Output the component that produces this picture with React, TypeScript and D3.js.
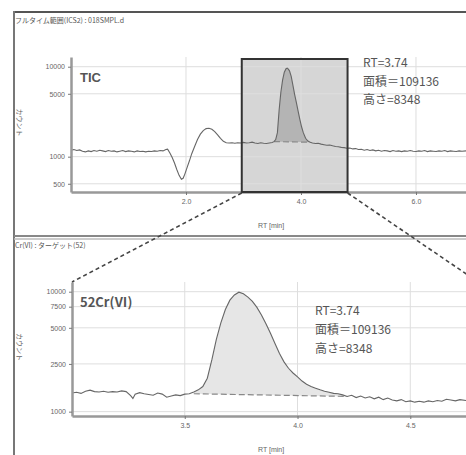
import * as d3 from "d3";
import { useEffect, useRef } from "react";

// ---- TIC (上段) ----
const ticTimes = [
  0.0, 0.05, 0.1, 0.15, 0.2, 0.25, 0.3, 0.35, 0.4, 0.45, 0.5, 0.55, 0.6, 0.65, 0.7, 0.75, 0.8, 0.85, 0.9, 0.95,
  1.0, 1.05, 1.1, 1.15, 1.2, 1.25, 1.3, 1.35, 1.4, 1.45, 1.5, 1.55, 1.6, 1.65, 1.68, 1.72, 1.76, 1.8, 1.84, 1.88,
  1.92, 1.95, 1.98, 2.02, 2.06, 2.1, 2.15, 2.2, 2.25, 2.3, 2.35, 2.4, 2.45, 2.5, 2.55, 2.6, 2.65, 2.7, 2.75, 2.8,
  2.85, 2.9, 2.95, 3.0, 3.05, 3.1, 3.15, 3.2, 3.25, 3.3, 3.35, 3.4, 3.45, 3.5, 3.53, 3.56, 3.59, 3.62, 3.65, 3.68,
  3.71, 3.74, 3.76, 3.78, 3.8, 3.83, 3.86, 3.89, 3.92, 3.95, 3.98, 4.01, 4.04, 4.08, 4.12, 4.16, 4.2, 4.25, 4.3, 4.35,
  4.4, 4.45, 4.5, 4.55, 4.6, 4.65, 4.7, 4.75, 4.8, 4.85, 4.9, 4.95, 5.0, 5.05, 5.1, 5.15, 5.2, 5.25, 5.3, 5.35,
  5.4, 5.45, 5.5, 5.55, 5.6, 5.65, 5.7, 5.75, 5.8, 5.85, 5.9, 5.95, 6.0, 6.05, 6.1, 6.15, 6.2, 6.25, 6.3, 6.35,
  6.4, 6.45, 6.5, 6.55, 6.6, 6.65, 6.7, 6.75, 6.8, 6.87,
];
const ticCounts = [
  1180, 1200, 1170, 1190, 1150, 1130, 1160, 1140, 1170, 1150, 1180, 1160, 1140, 1170, 1150, 1160, 1130, 1150, 1170, 1140,
  1160, 1150, 1130, 1160, 1140, 1150, 1130, 1150, 1140, 1160, 1150, 1170, 1160, 1200, 1210, 1100, 980, 850, 720, 620,
  560, 575, 640, 760, 900, 1080, 1300, 1550, 1780, 1950, 2050, 2070, 2020, 1900, 1750, 1600, 1480, 1430, 1420, 1430,
  1410, 1430, 1420, 1440, 1420, 1430, 1450, 1420, 1400, 1430, 1410, 1400, 1420, 1440, 1470, 1550, 1850, 3300, 5200, 7100,
  8700, 9500, 9660, 9400, 9000, 7800, 6200, 4900, 4000, 3200, 2600, 2150, 1850, 1600, 1490, 1450, 1420, 1400, 1410, 1380,
  1360, 1340, 1350, 1320, 1300, 1290, 1270, 1260, 1240, 1250, 1220, 1230, 1200, 1210, 1180, 1200, 1170, 1190, 1160, 1180,
  1150, 1170, 1160, 1140, 1170, 1150, 1160, 1140, 1160, 1150, 1170, 1150, 1140, 1160, 1150, 1170, 1140, 1160, 1150, 1140,
  1160, 1150, 1170, 1140, 1160, 1150, 1140, 1160, 1150, 1160,
];
const ticXTicks = [2.0, 4.0, 6.0];
const ticYTicks = [10000, 5000, 1000, 500];
const ticPeakRange = [3.53, 4.16]; // 積分範囲
const ticBaseCounts = [1470, 1450];

// ---- 52Cr(VI) (下段) ----
const crTimes = [
  3.0, 3.02, 3.04, 3.06, 3.08, 3.1, 3.12, 3.14, 3.16, 3.18, 3.2, 3.22, 3.24, 3.26, 3.27, 3.28, 3.3, 3.32, 3.34, 3.36,
  3.38, 3.4, 3.42, 3.44, 3.46, 3.48, 3.5, 3.52, 3.54, 3.56, 3.58, 3.6, 3.62, 3.64, 3.66, 3.68, 3.7, 3.72, 3.74, 3.76,
  3.78, 3.8, 3.82, 3.84, 3.86, 3.88, 3.9, 3.92, 3.94, 3.96, 3.98, 4.0, 4.02, 4.04, 4.06, 4.08, 4.1, 4.12, 4.14, 4.16,
  4.18, 4.2, 4.22, 4.24, 4.26, 4.28, 4.3, 4.32, 4.34, 4.36, 4.38, 4.4, 4.42, 4.44, 4.46, 4.48, 4.5, 4.52, 4.54, 4.56,
  4.58, 4.6, 4.62, 4.64, 4.66, 4.68, 4.7, 4.72, 4.747,
];
const crCounts = [
  1430, 1450, 1420, 1480, 1510, 1470, 1460, 1480, 1450, 1470, 1460, 1490, 1470, 1360, 1290, 1400, 1440, 1410, 1390, 1370,
  1430, 1400, 1320, 1350, 1380, 1360, 1400, 1410, 1460, 1520, 1620, 1900, 2700, 4000, 5500, 7100, 8500, 9400, 9900, 9600,
  9000, 8300, 7400, 6400, 5400, 4500, 3700, 3050, 2600, 2300, 2100, 1950, 1800, 1690, 1620, 1570, 1520, 1480, 1450, 1420,
  1410, 1380, 1340, 1370, 1310, 1350, 1300, 1330, 1280, 1320, 1260, 1300, 1250, 1230, 1260, 1210, 1230, 1200, 1220, 1200,
  1230, 1210, 1240, 1220, 1270, 1250, 1230, 1260, 1240,
];
const crXTicks = [3.5, 4.0, 4.5];
const crYTicks = [10000, 7500, 5000, 2500, 1000];
const crPeakRange = [3.54, 4.22];
const crBaseCounts = [1410, 1340];

const zoomRange = [2.97, 4.81];
const peakInfo = ["RT=3.74", "面積＝109136", "高さ=8348"];

export default function App() {
  const ref = useRef<SVGSVGElement>(null);

  useEffect(() => {
    const W = 466;
    const H = 455;
    const svg = d3.select(ref.current);
    svg.selectAll("*").remove();
    svg.attr("viewBox", `0 0 ${W} ${H}`);

    const font = "'Liberation Sans', Arial, sans-serif";
    const jfont = "'Noto Sans CJK JP', sans-serif";

    // ---- 外枠 ----
    svg.append("line").attr("x1", 14).attr("x2", W).attr("y1", 12).attr("y2", 12)
      .attr("stroke", "#555").attr("stroke-width", 2);
    svg.append("line").attr("x1", 14).attr("x2", 14).attr("y1", 11).attr("y2", H)
      .attr("stroke", "#777").attr("stroke-width", 2);
    svg.append("line").attr("x1", 14).attr("x2", W).attr("y1", 236).attr("y2", 236)
      .attr("stroke", "#888").attr("stroke-width", 2);
    svg.append("line").attr("x1", 14).attr("x2", W).attr("y1", 239).attr("y2", 239)
      .attr("stroke", "#bbb").attr("stroke-width", 1.5);

    svg.append("text").attr("x", 15).attr("y", 23).attr("font-size", 7).attr("font-family", jfont)
      .attr("fill", "#555").text("フルタイム範囲(ICS2) : 018SMPL.d");
    svg.append("text").attr("x", 15).attr("y", 248).attr("font-size", 7).attr("font-family", jfont)
      .attr("fill", "#555").text("Cr(VI) : ターゲット(52)");

    // ---- パネル描画 ----
    type Panel = {
      x: d3.ScaleLinear<number, number>;
      y: d3.ScaleLogarithmic<number, number>;
      times: number[];
      counts: number[];
      xTicks: number[];
      yTicks: number[];
      peak: number[];
      base: number[];
      peakFill: string;
      id: string;
    };

    const top: Panel = {
      x: d3.scaleLinear().domain([0, 6.87]).range([71, 466]),
      y: d3.scaleLog().domain([405, 12820]).range([192, 57]),
      times: ticTimes, counts: ticCounts, xTicks: ticXTicks, yTicks: ticYTicks,
      peak: ticPeakRange, base: ticBaseCounts, peakFill: "#b4b4b4", id: "tic",
    };
    const bot: Panel = {
      x: d3.scaleLinear().domain([3.0, 4.747]).range([72, 466]),
      y: d3.scaleLog().domain([920, 12045]).range([416, 282]),
      times: crTimes, counts: crCounts, xTicks: crXTicks, yTicks: crYTicks,
      peak: crPeakRange, base: crBaseCounts, peakFill: "#e6e6e6", id: "cr",
    };

    function drawPanel(p: Panel, beforeGrid?: (g: any) => void) {
      const [x0, x1] = p.x.range();
      const [y0, y1] = p.y.range();
      const g = svg.append("g");

      g.append("clipPath").attr("id", `clip-${p.id}`).append("rect")
        .attr("x", x0).attr("y", y1).attr("width", x1 - x0).attr("height", y0 - y1);

      if (beforeGrid) beforeGrid(g);

      // グリッド
      g.append("g").attr("stroke", "#dedede").attr("stroke-width", 1)
        .selectAll("line").data(p.yTicks).join("line")
        .attr("x1", x0).attr("x2", x1)
        .attr("y1", (d) => p.y(d)).attr("y2", (d) => p.y(d));
      g.append("g").attr("stroke", "#dedede").attr("stroke-width", 1)
        .selectAll("line").data(p.xTicks).join("line")
        .attr("x1", (d) => p.x(d)).attr("x2", (d) => p.x(d))
        .attr("y1", y1).attr("y2", y0);

      // ピーク面積
      const bx0 = p.x(p.peak[0]), bx1 = p.x(p.peak[1]);
      const by0 = p.y(p.base[0]), by1 = p.y(p.base[1]);
      const baseAt = (px: number) => by0 + ((px - bx0) / (bx1 - bx0)) * (by1 - by0);
      const pts = p.times.map((t, i) => [t, p.counts[i]] as [number, number])
        .filter((d) => d[0] >= p.peak[0] && d[0] <= p.peak[1]);
      const area = d3.area<[number, number]>()
        .x((d) => p.x(d[0]))
        .y0((d) => baseAt(p.x(d[0])))
        .y1((d) => p.y(d[1]));
      g.append("path").attr("d", area(pts)).attr("fill", p.peakFill).attr("stroke", "none");

      g.append("line").attr("x1", bx0).attr("x2", bx1).attr("y1", by0).attr("y2", by1)
        .attr("stroke", "#888").attr("stroke-width", 1.2).attr("stroke-dasharray", "6,3");

      // データ線
      const line = d3.line<number>()
        .x((_, i) => p.x(p.times[i]))
        .y((d) => p.y(d));
      g.append("path").attr("d", line(p.counts)).attr("fill", "none")
        .attr("clip-path", `url(#clip-${p.id})`)
        .attr("stroke", "#666").attr("stroke-width", 1.1);

      // 軸
      const ax = g.append("g").attr("transform", `translate(0,${y0})`)
        .call(d3.axisBottom(p.x).tickValues(p.xTicks).tickFormat(d3.format(".1f")).tickSize(3).tickSizeOuter(0));
      const ay = g.append("g").attr("transform", `translate(${x0},0)`)
        .call(d3.axisLeft(p.y).tickValues(p.yTicks).tickFormat(d3.format("d")).tickSize(3).tickSizeOuter(0));
      [ax, ay].forEach((a) => {
        a.select(".domain").attr("stroke", "#999").attr("stroke-width", 2.5);
        a.selectAll(".tick line").attr("stroke", "#777");
        a.selectAll(".tick text").attr("font-size", 7).attr("font-family", font).attr("fill", "#666");
      });
      ax.selectAll(".tick text").attr("dy", "0.9em");

      // 軸ラベル
      g.append("text").attr("x", 258).attr("y", y0 + 36).attr("font-size", 7).attr("font-family", font)
        .attr("fill", "#666").text("RT [min]");
      g.append("text").attr("transform", `translate(17,${(y0 + y1) / 2 - 2}) rotate(90)`)
        .attr("text-anchor", "middle").attr("font-size", 7).attr("font-family", jfont)
        .attr("fill", "#666").text("カウント");
      return g;
    }

    // 上段（拡大範囲の矩形はグリッドの下）
    const topG = drawPanel(top, (g) => {
      g.append("rect")
        .attr("x", top.x(zoomRange[0])).attr("y", 59)
        .attr("width", top.x(zoomRange[1]) - top.x(zoomRange[0])).attr("height", 192 - 59)
        .attr("fill", "#d6d6d6");
    });
    topG.append("rect")
      .attr("x", top.x(zoomRange[0])).attr("y", 59)
      .attr("width", top.x(zoomRange[1]) - top.x(zoomRange[0])).attr("height", 192 - 59)
      .attr("fill", "none").attr("stroke", "#333").attr("stroke-width", 2);

    drawPanel(bot);

    // 拡大の破線
    const dash = svg.append("g").attr("stroke", "#444").attr("stroke-width", 1.6)
      .attr("stroke-dasharray", "4,3");
    dash.append("line").attr("x1", top.x(zoomRange[0])).attr("y1", 193)
      .attr("x2", bot.x.range()[0]).attr("y2", bot.y.range()[1]);
    dash.append("line").attr("x1", top.x(zoomRange[1])).attr("y1", 193)
      .attr("x2", 478).attr("y2", bot.y.range()[1]);

    // ラベル
    svg.append("text").attr("x", 80).attr("y", 82).attr("font-size", 13).attr("font-weight", 700)
      .attr("font-family", font).attr("fill", "#555").text("TIC");
    svg.append("text").attr("x", 80).attr("y", 307).attr("font-size", 13).attr("font-weight", 700)
      .attr("font-family", jfont).attr("fill", "#555").text("52Cr(Ⅵ)");

    svg.append("g").selectAll("text").data(peakInfo).join("text")
      .attr("x", 363).attr("y", (_, i) => 67 + i * 18.5)
      .attr("font-size", 12).attr("font-family", jfont).attr("fill", "#555").text((d) => d);
    svg.append("g").selectAll("text").data(peakInfo).join("text")
      .attr("x", 315).attr("y", (_, i) => 315 + i * 19)
      .attr("font-size", 12).attr("font-family", jfont).attr("fill", "#555").text((d) => d);
  }, []);

  return (
    <svg
      ref={ref}
      width={466}
      height={455}
      style={{ position: "absolute", left: 0, top: 0, background: "#fff" }}
    />
  );
}
